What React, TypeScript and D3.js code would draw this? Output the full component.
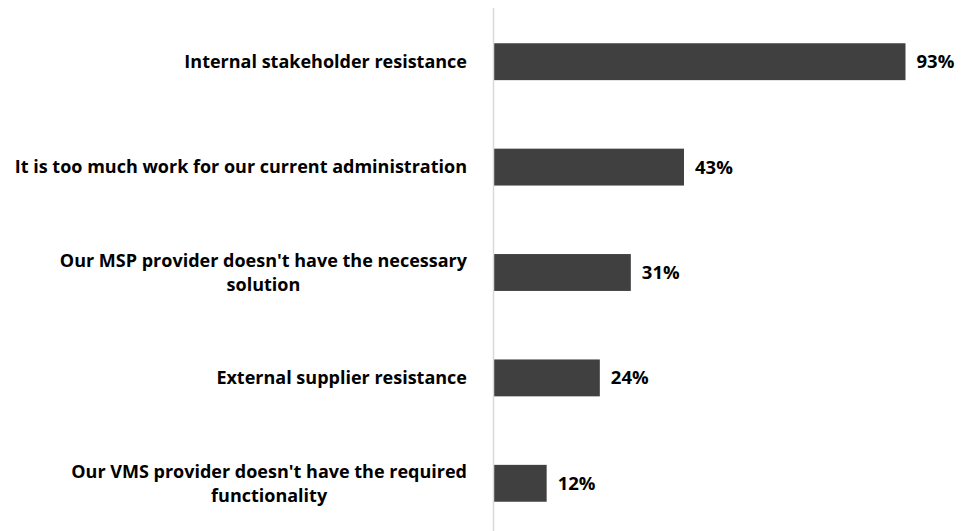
import React, { useEffect, useRef } from "react";
import * as d3 from "d3";

const categoryLines: string[][] = [
  ["Internal stakeholder resistance"],
  ["It is too much work for our current administration"],
  ["Our MSP provider doesn't have the necessary", "solution"],
  ["External supplier resistance"],
  ["Our VMS provider doesn't have the required", "functionality"],
];
const values: number[] = [93, 43, 31, 24, 12];
const valueLabels: string[] = ["93%", "43%", "31%", "24%", "12%"];

const W = 974;
const H = 531;
const AXIS_X = 493.5;
const LABEL_RIGHT = 467;
const FONT = "'Open Sans', Lato, sans-serif";
const FS = 18;
const FS_VAL = 18.5;

export default function App() {
  const ref = useRef<SVGSVGElement>(null);
  useEffect(() => {
    const svg = d3.select(ref.current);
    svg.selectAll("*").remove();
    const ids = categoryLines.map((_, i) => String(i));
    const y = d3.scaleBand<string>().domain(ids).range([9, 536]).paddingInner(0.65).paddingOuter(0.325);
    const x = d3.scaleLinear().domain([0, 100]).range([AXIS_X, AXIS_X + 443]);

    svg
      .append("g")
      .selectAll("rect")
      .data(values)
      .join("rect")
      .attr("x", x(0))
      .attr("y", (_, i) => y(ids[i])!)
      .attr("width", (d) => x(d) - x(0))
      .attr("height", y.bandwidth())
      .attr("fill", "#404040");

    svg
      .append("line")
      .attr("x1", AXIS_X)
      .attr("x2", AXIS_X)
      .attr("y1", 8)
      .attr("y2", H)
      .attr("stroke", "#d9d9d9")
      .attr("stroke-width", 1.5);

    svg
      .append("g")
      .selectAll("text")
      .data(values)
      .join("text")
      .attr("x", (d) => x(d) + 11)
      .attr("y", (_, i) => y(ids[i])! + y.bandwidth() / 2)
      .attr("dy", "0.35em")
      .attr("font-family", FONT)
      .attr("font-weight", 700)
      .attr("font-size", FS_VAL)
      .attr("fill", "#000")
      .text((_, i) => valueLabels[i]);

    const lineH = 24;
    categoryLines.forEach((lines, i) => {
      const cy = y(ids[i])! + y.bandwidth() / 2;
      const g = svg.append("g");
      const texts = lines.map((ln, j) =>
        g
          .append("text")
          .attr("y", cy + (j - (lines.length - 1) / 2) * lineH)
          .attr("dy", "0.35em")
          .attr("font-family", FONT)
          .attr("font-weight", 700)
          .attr("font-size", FS)
          .attr("fill", "#000")
          .attr("text-anchor", "middle")
          .text(ln)
      );
      const maxW = d3.max(texts, (t) => (t.node() as SVGTextElement).getComputedTextLength()) || 0;
      texts.forEach((t) => t.attr("x", LABEL_RIGHT - maxW / 2));
    });
  }, []);

  return (
    <svg
      ref={ref}
      width={W}
      height={H}
      style={{ position: "absolute", left: 0, top: 0, background: "#fff" }}
    />
  );
}
